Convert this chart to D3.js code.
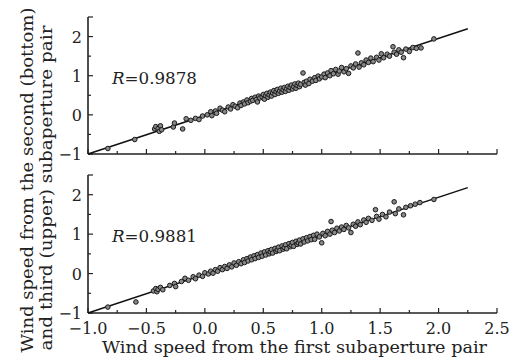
<!DOCTYPE html>
<html><head><meta charset="utf-8">
<script src="https://cdn.jsdelivr.net/npm/d3@7"></script>
<style>body{margin:0;background:#fff}svg{display:block}</style>
</head><body><svg id="c" width="520" height="361"></svg>
<script>
const xTicks = [-1.0,-0.5,0.0,0.5,1.0,1.5,2.0,2.5];
const yTicks = [-1,0,1,2];
const rTop = "0.9878", rBottom = "0.9881";
const fitTop = [[-1,-1.0],[2.25,2.2]];
const fitBottom = [[-1,-1.0],[2.25,2.18]];
const pointsTop = [[-0.83,-0.86],[-0.60,-0.63],[-0.43,-0.36],[-0.42,-0.30],[-0.40,-0.35],[-0.39,-0.42],[-0.38,-0.28],[-0.37,-0.38],[-0.27,-0.31],[-0.26,-0.21],[-0.19,-0.36],[-0.16,-0.10],[-0.12,-0.14],[-0.08,-0.09],[-0.05,-0.12],[-0.02,-0.03],[0.02,0.00],[0.05,0.08],[0.06,-0.02],[0.09,0.10],[0.10,0.04],[0.13,0.17],[0.15,0.12],[0.17,0.08],[0.20,0.20],[0.22,0.15],[0.24,0.26],[0.26,0.22],[0.28,0.18],[0.30,0.30],[0.31,0.24],[0.33,0.33],[0.34,0.28],[0.36,0.38],[0.37,0.31],[0.39,0.35],[0.40,0.42],[0.41,0.37],[0.43,0.45],[0.44,0.39],[0.45,0.33],[0.46,0.48],[0.47,0.43],[0.49,0.46],[0.50,0.52],[0.51,0.40],[0.52,0.49],[0.53,0.55],[0.54,0.45],[0.55,0.51],[0.56,0.58],[0.57,0.48],[0.58,0.56],[0.59,0.62],[0.60,0.52],[0.61,0.59],[0.62,0.65],[0.63,0.55],[0.64,0.61],[0.65,0.68],[0.66,0.58],[0.67,0.64],[0.68,0.70],[0.69,0.60],[0.70,0.67],[0.71,0.73],[0.72,0.63],[0.73,0.70],[0.74,0.76],[0.75,0.66],[0.76,0.72],[0.77,0.79],[0.78,0.68],[0.79,0.75],[0.80,0.81],[0.81,0.72],[0.82,0.78],[0.84,1.07],[0.85,0.83],[0.86,0.76],[0.87,0.86],[0.89,0.80],[0.90,0.91],[0.92,0.86],[0.94,0.95],[0.95,0.88],[0.97,0.99],[0.98,0.92],[1.00,0.97],[1.02,1.04],[1.03,0.95],[1.05,1.07],[1.07,1.00],[1.08,1.13],[1.10,1.05],[1.12,1.16],[1.14,1.04],[1.15,1.12],[1.17,1.21],[1.19,1.10],[1.21,1.18],[1.23,1.06],[1.25,1.25],[1.27,1.20],[1.29,1.30],[1.31,1.58],[1.32,1.22],[1.34,1.33],[1.36,1.28],[1.38,1.40],[1.40,1.34],[1.42,1.45],[1.44,1.36],[1.47,1.47],[1.49,1.40],[1.51,1.56],[1.53,1.46],[1.56,1.55],[1.58,1.50],[1.61,1.74],[1.62,1.60],[1.64,1.55],[1.66,1.66],[1.68,1.60],[1.70,1.46],[1.72,1.68],[1.75,1.62],[1.78,1.72],[1.81,1.70],[1.85,1.71],[1.96,1.94]];
const pointsBottom = [[-0.83,-0.85],[-0.59,-0.72],[-0.44,-0.44],[-0.42,-0.38],[-0.41,-0.46],[-0.40,-0.40],[-0.38,-0.35],[-0.36,-0.41],[-0.30,-0.30],[-0.26,-0.25],[-0.25,-0.33],[-0.20,-0.20],[-0.17,-0.12],[-0.14,-0.17],[-0.10,-0.08],[-0.08,-0.13],[-0.05,-0.04],[-0.02,-0.07],[0.00,0.02],[0.03,-0.01],[0.05,0.06],[0.07,0.01],[0.09,0.10],[0.11,0.06],[0.13,0.15],[0.15,0.10],[0.17,0.18],[0.19,0.13],[0.21,0.22],[0.23,0.17],[0.25,0.27],[0.27,0.21],[0.29,0.30],[0.31,0.25],[0.33,0.35],[0.34,0.28],[0.36,0.38],[0.37,0.32],[0.39,0.42],[0.40,0.35],[0.42,0.45],[0.43,0.38],[0.45,0.48],[0.46,0.41],[0.48,0.52],[0.49,0.44],[0.51,0.55],[0.52,0.47],[0.54,0.58],[0.55,0.50],[0.56,0.55],[0.57,0.61],[0.58,0.52],[0.60,0.64],[0.61,0.56],[0.62,0.60],[0.63,0.67],[0.64,0.58],[0.66,0.70],[0.67,0.62],[0.68,0.66],[0.69,0.73],[0.70,0.63],[0.72,0.76],[0.73,0.68],[0.74,0.72],[0.75,0.79],[0.76,0.69],[0.78,0.82],[0.79,0.74],[0.80,0.78],[0.81,0.85],[0.82,0.75],[0.84,0.88],[0.85,0.80],[0.87,0.91],[0.88,0.83],[0.90,0.94],[0.91,0.86],[0.93,0.97],[0.94,0.87],[0.96,1.00],[0.98,0.93],[1.00,0.78],[1.01,1.02],[1.03,0.96],[1.05,1.07],[1.07,1.00],[1.08,1.32],[1.09,1.10],[1.11,1.04],[1.13,1.15],[1.15,1.08],[1.17,1.18],[1.19,1.12],[1.21,1.22],[1.23,1.16],[1.25,1.04],[1.27,1.25],[1.29,1.20],[1.31,1.31],[1.33,1.24],[1.36,1.36],[1.38,1.30],[1.40,1.40],[1.43,1.35],[1.46,1.62],[1.47,1.45],[1.49,1.38],[1.52,1.50],[1.55,1.44],[1.58,1.56],[1.62,1.82],[1.63,1.52],[1.66,1.64],[1.70,1.49],[1.72,1.68],[1.76,1.72],[1.80,1.76],[1.84,1.80],[1.96,1.88]];

const svg = d3.select("#c");
const FONT = "DejaVu Serif, serif";
const x = d3.scaleLinear().domain([-1, 2.5]).range([88, 497]);
const panels = [
  {pts: pointsTop, fit: fitTop, r: rTop, y: d3.scaleLinear().domain([-1, 2.5]).range([154, 17]), labels: false},
  {pts: pointsBottom, fit: fitBottom, r: rBottom, y: d3.scaleLinear().domain([-1, 2.5]).range([313, 175]), labels: true}
];
const minorX = d3.range(-1, 2.5001, 0.25);
const minorY = d3.range(-1, 2.5001, 0.5);

panels.forEach(p => {
  const g = svg.append("g");
  const y = p.y;
  g.append("line").attr("x1", x(-1)).attr("x2", x(2.5)).attr("y1", y(-1)).attr("y2", y(-1)).attr("stroke", "#222").attr("stroke-width", 1.6);
  g.append("line").attr("x1", x(-1)).attr("x2", x(-1)).attr("y1", y(-1)).attr("y2", y(2.5)).attr("stroke", "#222").attr("stroke-width", 1.6);
  g.selectAll(".xt").data(minorX).join("line")
    .attr("x1", d => x(d)).attr("x2", d => x(d))
    .attr("y1", y(-1)).attr("y2", d => y(-1) - (Math.abs(d*2 - Math.round(d*2)) < 1e-6 ? 5 : 3))
    .attr("stroke", "#222").attr("stroke-width", 1.2);
  g.selectAll(".yt").data(minorY).join("line")
    .attr("y1", d => y(d)).attr("y2", d => y(d))
    .attr("x1", x(-1)).attr("x2", d => x(-1) + (Math.abs(d - Math.round(d)) < 1e-6 || d > 2.4 ? 5 : 3))
    .attr("stroke", "#222").attr("stroke-width", 1.2);
  g.selectAll(".yl").data(yTicks).join("text")
    .attr("x", 82).attr("y", d => y(d) + 6)
    .attr("text-anchor", "end").attr("font-family", FONT).attr("font-size", 16).attr("fill", "#222")
    .text(d => d < 0 ? "\u2212" + Math.abs(d) : d);
  if (p.labels) {
    g.selectAll(".xl").data(xTicks).join("text")
      .attr("x", d => x(d)).attr("y", 334)
      .attr("text-anchor", "middle").attr("font-family", FONT).attr("font-size", 16).attr("fill", "#222")
      .text(d => (d < 0 ? "\u2212" : "") + Math.abs(d).toFixed(1));
  }
  g.append("line").attr("x1", x(p.fit[0][0])).attr("y1", y(p.fit[0][1]))
    .attr("x2", x(p.fit[1][0])).attr("y2", y(p.fit[1][1]))
    .attr("stroke", "#111").attr("stroke-width", 1.5);
  g.selectAll(".pt").data(p.pts).join("circle")
    .attr("cx", d => x(d[0])).attr("cy", d => y(d[1])).attr("r", 2.3)
    .attr("fill", "#888").attr("stroke", "#1a1a1a").attr("stroke-width", 1);
  const t = g.append("text").attr("x", 112).attr("y", y(1) + 8)
    .attr("font-family", FONT).attr("font-size", 17).attr("fill", "#222")
    .attr("textLength", 85).attr("lengthAdjust", "spacingAndGlyphs");
  t.append("tspan").attr("font-style", "italic").text("R");
  t.append("tspan").text("=" + p.r);
});

svg.append("text").attr("x", 294.5).attr("y", 353).attr("text-anchor", "middle")
  .attr("font-family", FONT).attr("font-size", 17).attr("fill", "#222")
  .attr("textLength", 385).attr("lengthAdjust", "spacingAndGlyphs")
  .text("Wind speed from the first subaperture pair");
svg.append("text").attr("transform", "translate(33,180) rotate(-90)")
  .attr("text-anchor", "middle").attr("font-family", FONT).attr("font-size", 17).attr("fill", "#222")
  .attr("textLength", 345).attr("lengthAdjust", "spacingAndGlyphs")
  .text("Wind speed from the second (bottom)");
svg.append("text").attr("transform", "translate(52,188) rotate(-90)")
  .attr("text-anchor", "middle").attr("font-family", FONT).attr("font-size", 17).attr("fill", "#222")
  .attr("textLength", 325).attr("lengthAdjust", "spacingAndGlyphs")
  .text("and third (upper) subaperture pair");
</script></body></html>
